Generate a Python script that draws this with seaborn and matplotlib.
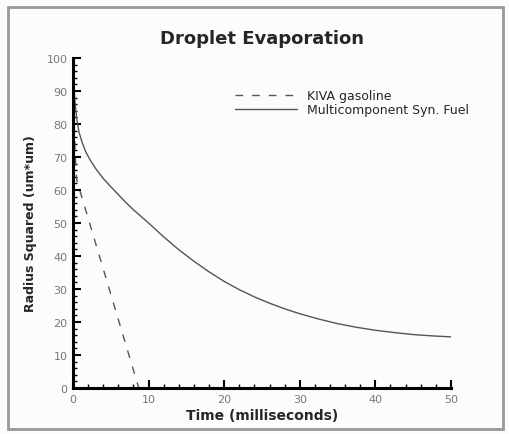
import numpy as np
import pandas as pd
import matplotlib
matplotlib.use("Agg")
import matplotlib.pyplot as plt
import seaborn as sns
from matplotlib.ticker import MultipleLocator
from matplotlib.patches import Rectangle

# === DATA ===
kiva_time = [0, 0.1, 0.3, 0.5, 8.7]
kiva_r2 = [100, 85, 70, 63, 0]

syn_time = [0, 0.1, 0.25, 0.5, 0.8, 1.2, 1.7, 2.3, 3, 4, 5, 6, 7, 8, 9,
            10, 12, 14, 16, 18, 20, 22, 24, 26, 28, 30, 32.5, 35, 37.5,
            40, 42.5, 45, 47.5, 50]
syn_r2 = [100, 93, 87, 81.5, 77.5, 74.5, 71.5, 69, 66.5, 63.5, 61, 58.6, 56.2, 54, 52,
          50, 45.8, 41.9, 38.4, 35.2, 32.3, 29.8, 27.6, 25.7, 24.0, 22.5, 20.9, 19.5, 18.4,
          17.5, 16.8, 16.2, 15.8, 15.5]

labels = ["KIVA gasoline", "Multicomponent Syn. Fuel"]

df = pd.concat([
    pd.DataFrame({"Time": kiva_time, "R2": kiva_r2, "Fuel": labels[0]}),
    pd.DataFrame({"Time": syn_time, "R2": syn_r2, "Fuel": labels[1]}),
], ignore_index=True)

# === STYLE ===
sns.set_style("white")
plt.rcParams['font.family'] = ['DejaVu Sans']

fig = plt.figure(figsize=(5.09, 4.35), dpi=100)
fig.patch.set_facecolor("#fcfcfc")
ax = fig.add_axes([0.1434, 0.1057, 0.7426, 0.7587])
ax.set_facecolor("#fcfcfc")

sns.lineplot(data=df, x="Time", y="R2", style="Fuel",
             dashes={labels[0]: (5.5, 6.5), labels[1]: ""},
             color="#555555", linewidth=1.0, ax=ax, legend=True)

ax.set_xlim(0, 50)
ax.set_ylim(0, 100)
ax.xaxis.set_major_locator(MultipleLocator(10))
ax.xaxis.set_minor_locator(MultipleLocator(2))
ax.yaxis.set_major_locator(MultipleLocator(10))
ax.yaxis.set_minor_locator(MultipleLocator(2))

for s in ["top", "right"]:
    ax.spines[s].set_visible(False)
for s in ["left", "bottom"]:
    ax.spines[s].set_linewidth(2.2)
    ax.spines[s].set_color("black")

ax.tick_params(which="both", bottom=True, left=True)
ax.tick_params(which="major", direction="in", length=5.5, width=1.5,
               colors="black", labelcolor="#777777", labelsize=8, pad=4)
ax.tick_params(which="minor", direction="in", length=3, width=1,
               colors="black")

ax.set_title("Droplet Evaporation", fontsize=13, fontweight="bold", pad=10.5)
ax.set_xlabel("Time (milliseconds)", fontsize=10, fontweight="bold", labelpad=3)
ax.set_ylabel("Radius Squared (um*um)", fontsize=9, fontweight="bold", labelpad=7)

leg = ax.legend(frameon=False, loc="upper left", bbox_to_anchor=(0.4286, 0.906),
                borderaxespad=0, borderpad=0, handlelength=5, handletextpad=0.8,
                fontsize=9, title=None, labelspacing=0.1)
for h in leg.get_lines():
    h.set_color("#555555")

# figure frame
fig.patches.append(Rectangle((8 / 509, 5 / 435), 495 / 509, 422 / 435,
                             transform=fig.transFigure, fill=False,
                             edgecolor="#999999", linewidth=2))

fig.savefig("out.png", dpi=100, facecolor=fig.get_facecolor())
